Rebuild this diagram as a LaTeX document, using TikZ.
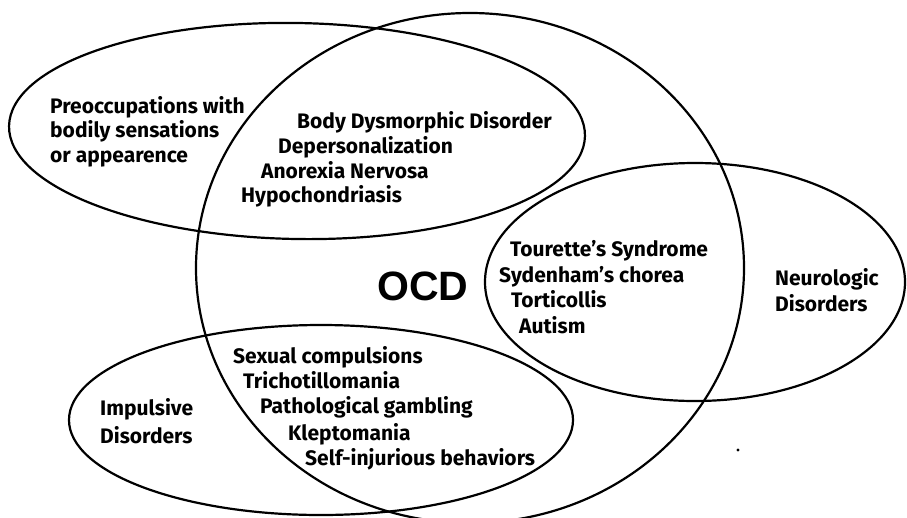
\documentclass[tikz,border=0pt]{standalone}
\usepackage{fontspec}
\setmainfont{Fira Sans}
\newfontfamily\ocdfont{Liberation Sans}
\begin{document}
\begin{tikzpicture}[x=1pt,y=-1pt,
  venn/.style={line width=2.2pt,black},
  lbl/.style={anchor=base west,inner sep=0pt,font=\fontsize{21}{25}\selectfont\bfseries}]
\useasboundingbox (0,0) rectangle (907,517);
% shapes
\draw[venn] (470,268) ellipse [x radius=274pt, y radius=255pt];
\draw[venn,rotate around={-1:(297,131)}] (297,131) ellipse [x radius=288pt, y radius=108pt];
\draw[venn] (695,282) ellipse [x radius=210pt, y radius=119pt];
\draw[venn] (321,420) ellipse [x radius=252pt, y radius=95pt];
% texts
\node[lbl] (p1) at (50,113) {Preoccupations with};
\node[lbl] (p2) at (50,137) {bodily sensations};
\node[lbl] (p3) at (50,162) {or appearence};
\node[lbl] (b1) at (297,128) {Body Dysmorphic Disorder};
\node[lbl] (b2) at (278,153) {Depersonalization};
\node[lbl] (b3) at (261,178) {Anorexia Nervosa};
\node[lbl] (b4) at (241,202) {Hypochondriasis};
\node[lbl] (t1) at (510,256) {Tourette's Syndrome};
\node[lbl] (t2) at (499,282) {Sydenham's chorea};
\node[lbl] (t3) at (511,307) {Torticollis};
\node[lbl] (t4) at (519,333) {Autism};
\node[lbl] (n1) at (775,285) {Neurologic};
\node[lbl] (n2) at (775,311) {Disorders};
\node[anchor=base west,inner sep=0pt,font=\ocdfont\fontsize{41}{45}\selectfont\bfseries] (ocd) at (377,300) {OCD};
\node[lbl] (s1) at (233,363) {Sexual compulsions};
\node[lbl] (s2) at (243,388) {Trichotillomania};
\node[lbl] (s3) at (260,413) {Pathological gambling};
\node[lbl] (s4) at (288,440) {Kleptomania};
\node[lbl] (s5) at (305,465) {Self-injurious behaviors};
\node[lbl] (i1) at (100,415) {Impulsive};
\node[lbl] (i2) at (100,443) {Disorders};
\fill (738,450) circle [radius=1.6pt];
\end{tikzpicture}
\end{document}
